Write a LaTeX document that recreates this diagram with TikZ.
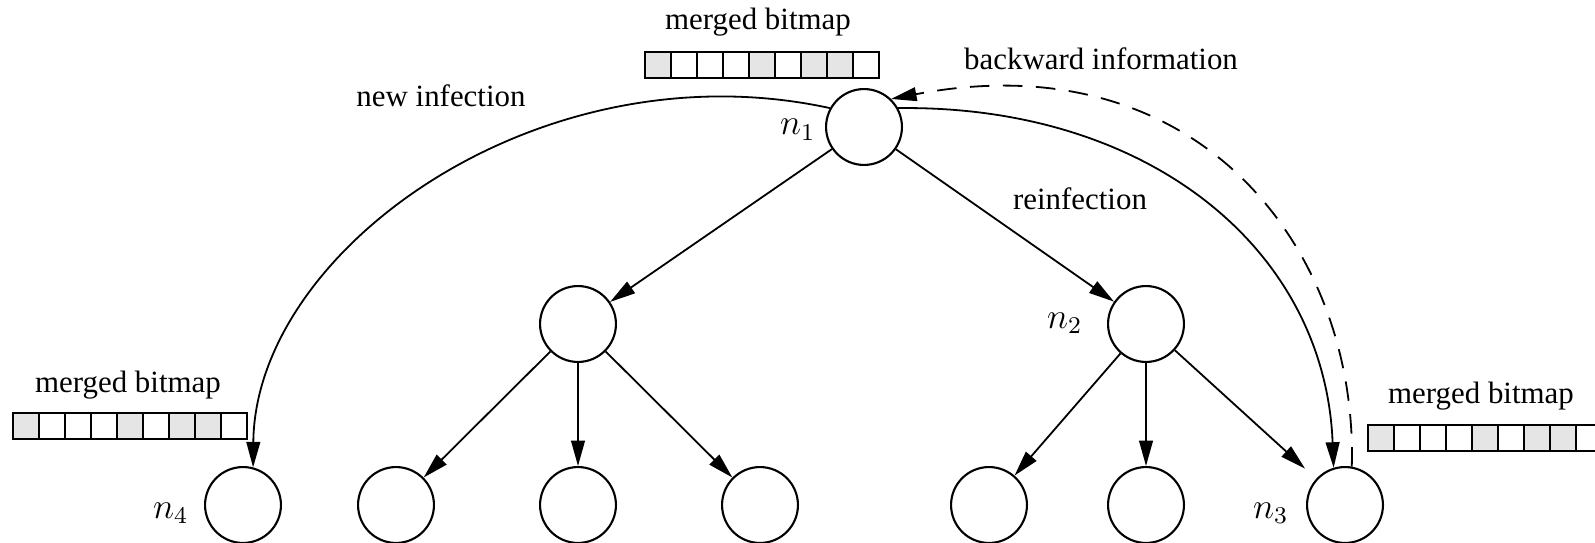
\documentclass[tikz,border=0pt]{standalone}
\usepackage{fontspec}
\setmainfont{Liberation Serif}
\usetikzlibrary{arrows.meta}
\begin{document}
\begin{tikzpicture}[x=0.33333pt,y=-0.33333pt,
  vert/.style={circle,draw,line width=0.7pt,minimum size=25.3pt,inner sep=0pt},
  conn/.style={line width=0.6pt,-{Triangle[length=8.5pt,width=4.6pt]}},
  txt/.style={font=\fontsize{10.3}{12}\selectfont,inner sep=0pt,anchor=base},
  mlbl/.style={font=\fontsize{12}{14}\selectfont,inner sep=0pt,anchor=base east},
  cell/.style={draw,line width=0.9pt}]
\useasboundingbox (0,0) rectangle (1595,543);
% bitmaps
\foreach \bx/\by in {645/52, 13/413, 1368/425}{
  \foreach \i/\f in {0/black!10,1/white,2/white,3/white,4/black!10,5/white,6/black!10,7/black!10,8/white}{
    \draw[cell,fill=\f] (\bx+26*\i,\by) rectangle ++(26,26);
  }
}
% vertices
\node[vert] (n1) at (864,127) {};
\node[vert] (m1) at (578,324) {};
\node[vert] (n2) at (1146,324) {};
\node[vert] (n4) at (243,505) {};
\node[vert] (b2) at (396,505) {};
\node[vert] (b3) at (578,505) {};
\node[vert] (b4) at (760,505) {};
\node[vert] (b5) at (989,505) {};
\node[vert] (b6) at (1146,505) {};
\node[vert] (n3) at (1345,505) {};
% vertex labels
\node[mlbl] (ln1) at (816,135) {$n_1$};
\node[mlbl] (ln2) at (1083,328) {$n_2$};
\node[mlbl] (ln4) at (189,518) {$n_4$};
\node[mlbl] (ln3) at (1289,518) {$n_3$};
% texts
\node[txt] (tb1) at (758,30) {merged bitmap};
\node[txt] (tb2) at (128,392) {merged bitmap};
\node[txt] (tb3) at (1481,403) {merged bitmap};
\node[txt] (tnew) at (441,107) {new infection};
\node[txt] (tback) at (1101,70) {backward information};
\node[txt] (trein) at (1080,210) {reinfection};
% tree edges
\draw[conn] (n1) -- (m1);
\draw[conn] (n1) -- (n2);
\draw[conn] (m1) -- (b2);
\draw[conn] (m1) -- (b3);
\draw[conn] (m1) -- (b4);
\draw[conn] (n2) -- (b5);
\draw[conn] (n2) -- (b6);
\draw[conn,shorten >=5pt] (n2) -- (n3);
% curved edges
\draw[conn] (n1.151) .. controls (540,45) and (255,250) .. (n4.75);
\draw[conn] (n1.29) .. controls (1150,105) and (1325,250) .. (n3.107);
\draw[conn,dash pattern=on 6.5pt off 4.5pt] (n3.80) .. controls (1358,250) and (1200,40) .. (n1.46);
\end{tikzpicture}
\end{document}
